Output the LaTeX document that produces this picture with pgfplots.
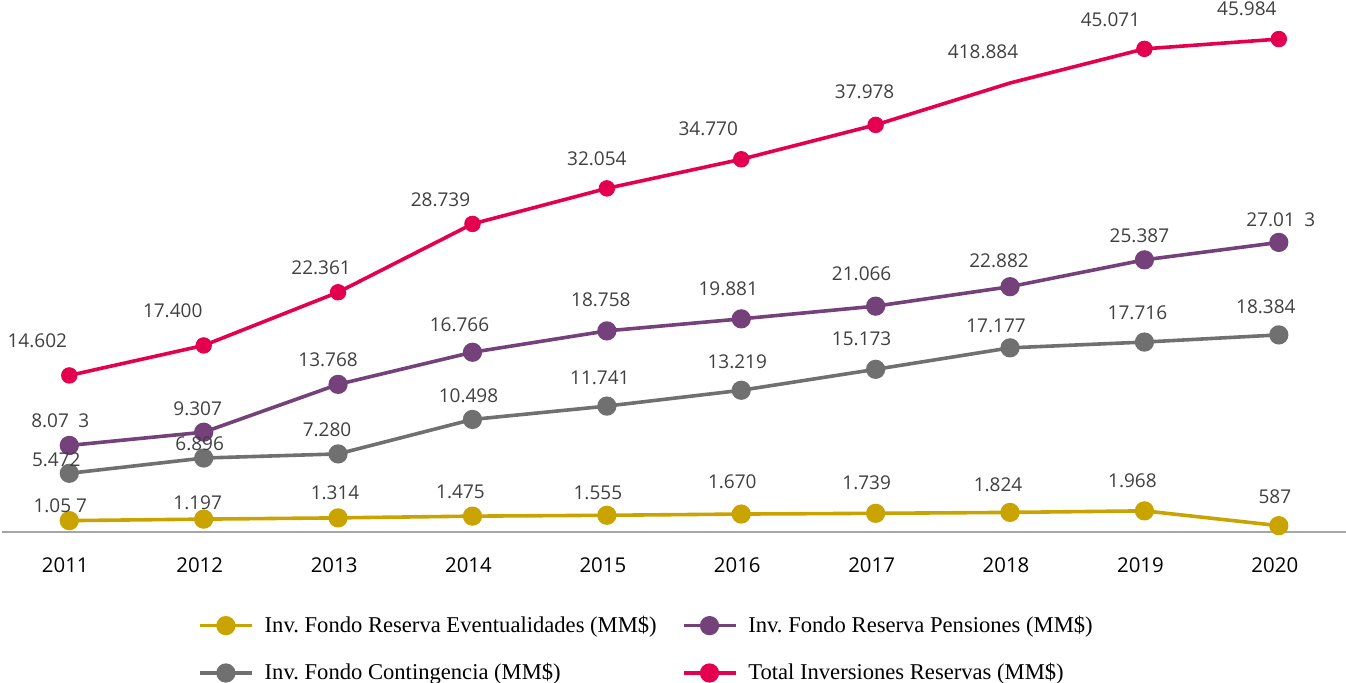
\documentclass[border=0pt]{standalone}
\usepackage{pgfplots}
\usepackage{pgfplotstable}
\pgfplotsset{compat=1.18}
\usepackage{fontspec}
\setmainfont{Liberation Serif}
\newfontfamily\labfont{Open Sans}
\frenchspacing
\definecolor{cGold}{HTML}{C9A400}
\definecolor{cPurple}{HTML}{74417A}
\definecolor{cGrey}{HTML}{707070}
\definecolor{cPink}{HTML}{E4004F}
\definecolor{labgray}{HTML}{404040}
\definecolor{axisgray}{HTML}{A6A6A6}

\pgfplotstableread{
i v lab dx dy
0 1.057 {1.05 7} -4.5 4
1 1.197 1.197 -3 5
2 1.314 1.314 -1.5 9
3 1.475 1.475 -6 9
4 1.555 1.555 -4.5 8
5 1.670 1.670 -4.5 13
6 1.739 1.739 -4.5 12
7 1.824 1.824 -6 10.5
8 1.968 1.968 -6 11.5
9 0.587 587 -2 11
}\gold
\pgfplotstableread{
i v lab dx dy
0 8.073 {8.07\enspace 3} -4.5 9
1 9.307 9.307 -3 8.5
2 13.768 13.768 -5 9
3 16.766 16.766 -6.5 10.5
4 18.758 18.758 -3 12
5 19.881 19.881 -6.5 11.5
6 21.066 21.066 -7 13
7 22.882 22.882 -5.5 9.5
8 25.387 25.387 -2.5 8.5
9 27.013 {27.01\enspace 3} 1 8
}\purple
\pgfplotstableread{
i v lab dx dy
0 5.472 5.472 -6.5 3.5
1 6.896 6.896 -2 4
2 7.280 7.280 -5.5 8.5
3 10.498 10.498 -2 8.5
4 11.741 11.741 -3.5 11
5 13.219 13.219 -2 11
6 15.173 15.173 -7 12
7 17.177 17.177 -7 7.5
8 17.716 17.716 -3.5 11.5
9 18.384 18.384 -6.5 10.5
}\grey
\pgfplotstableread{
i v lab dx dy
0 14.602 14.602 -16 14
1 17.400 17.400 -15.5 14
2 22.361 22.361 -8.5 9
3 28.739 28.739 -16 8.5
4 32.054 32.054 -5 11.5
5 34.770 34.770 -16.5 12
6 37.978 37.978 -5.5 13
7 41.884 418.884 -13.5 12.5
8 45.071 45.071 -17 11
9 45.984 45.984 -16 12
}\total

\pgfplotsset{
  lab/.style={
    line width=1.8pt, mark=*, mark size=3.9pt, mark options={solid},
    nodes near coords, point meta=explicit symbolic,
    visualization depends on={\thisrow{dx} \as \dx},
    visualization depends on={\thisrow{dy} \as \dy},
    every node near coord/.append style={anchor=base, xshift=\dx pt, yshift=\dy pt,
      font=\labfont\fontsize{9.5}{11}\selectfont, text=labgray, inner sep=0pt},
  },
}

\begin{document}
\begin{tikzpicture}
\begin{axis}[
  scale only axis, width=672pt, height=266pt,
  xmin=-0.5, xmax=9.5, ymin=0, ymax=49.63,
  enlargelimits=false, clip=false,
  axis x line=bottom, axis y line=none,
  x axis line style={-, draw=axisgray, line width=1pt},
  ytick=\empty,
  xtick={0,...,9},
  xticklabels={2011,2012,2013,2014,2015,2016,2017,2018,2019,2020},
  major tick length=0pt,
  xticklabel style={anchor=base, yshift=-20.5pt, xshift=-2pt,
    font=\labfont\fontsize{10.2}{12}\selectfont, text=black},
  legend columns=2,
  legend cell align=left,
  legend image code/.code={\draw[mark repeat=2,mark phase=2,#1] plot coordinates {(0pt,0pt) (13pt,0pt) (26pt,0pt)};},
  legend style={at={(rel axis cs:0,0)}, anchor=north west, xshift=98pt, yshift=-42pt,
    draw=none, fill=none, inner sep=0pt, outer sep=0pt,
    font=\fontsize{11.3}{13}\selectfont,
    row sep=14pt,
    /tikz/every odd column/.append style={column sep=5.5pt},
    /tikz/every even column/.append style={column sep=12.5pt},
    nodes={inner sep=0pt}},
]
\addplot[color=cGold, lab] table[x=i, y=v, meta=lab] {\gold};
\addlegendentry{Inv. Fondo Reserva Eventualidades (MM\$)}
\addplot[color=cPurple, lab] table[x=i, y=v, meta=lab] {\purple};
\addlegendentry{Inv. Fondo Reserva Pensiones (MM\$)}
\addplot[color=cGrey, lab] table[x=i, y=v, meta=lab] {\grey};
\addlegendentry{Inv. Fondo Contingencia (MM\$)}
\addplot[color=cPink, lab, mark=none,
  legend image code/.code={\draw[cPink, line width=1.8pt, mark repeat=2, mark phase=2, mark=*, mark size=3.9pt] plot coordinates {(0pt,0pt) (13pt,0pt) (26pt,0pt)};}]
  table[x=i, y=v, meta=lab] {\total};
\addlegendentry{Total Inversiones Reservas (MM\$)}
\addplot[color=cPink, only marks, mark=*, mark size=3.9pt, forget plot,
  skip coords between index={7}{8}] table[x=i, y=v] {\total};
\coordinate (BL) at (rel axis cs:0,0);
\coordinate (TR) at (rel axis cs:1,1);
\end{axis}
\pgfresetboundingbox
\path[use as bounding box] ([xshift=-1.05pt,yshift=-75.5pt]BL) rectangle (TR);
\end{tikzpicture}
\end{document}
